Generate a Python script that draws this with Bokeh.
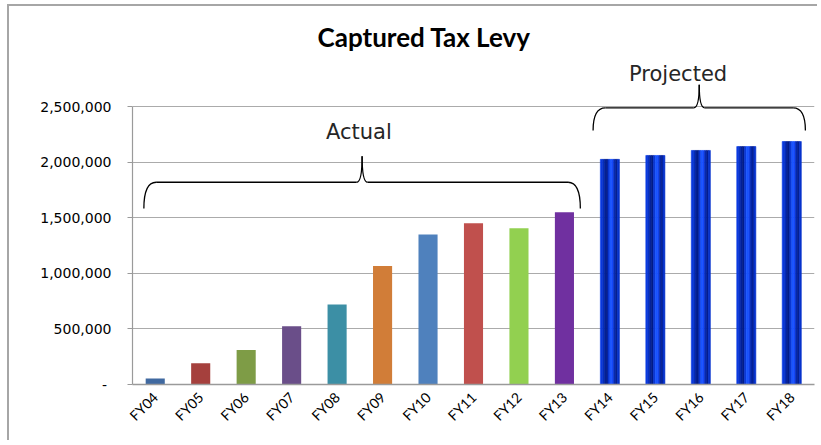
import math
from bokeh.plotting import figure
from bokeh.models import ColumnDataSource, FixedTicker, Range1d
from bokeh.core.properties import value
from bokeh.embed import file_html
from bokeh.resources import INLINE

# ---------------- data ----------------
categories = ["FY04", "FY05", "FY06", "FY07", "FY08", "FY09", "FY10", "FY11",
              "FY12", "FY13", "FY14", "FY15", "FY16", "FY17", "FY18"]
levy = [55000, 190000, 310000, 525000, 720000, 1065000, 1350000, 1450000,
        1405000, 1550000, 2025000, 2060000, 2105000, 2140000, 2185000]
actual_colors = ["#4069A0", "#A5403D", "#7E9C46", "#6A4E89", "#3C8FA5",
                 "#D17D38", "#4F81BD", "#C0504D", "#92D050", "#7030A0"]
projected_stripes = ["#0A3AE2", "#0630C6", "#04229A", "#031C88", "#0A36D2",
                     "#1A55FF", "#1448F8", "#0629B0", "#041F92", "#0632CC"]
y_ticks = [0, 500000, 1000000, 1500000, 2000000, 2500000]
y_tick_labels = ["-\u00a0", "500,000", "1,000,000", "1,500,000", "2,000,000", "2,500,000"]

group_names = ["Actual", "Projected"]
group_first = [0, 10]
group_last = [9, 14]
# annotation geometry (braces and their labels)
brace_pad_left = [0.25, 0.37]
brace_pad_right = [0.35, 0.30]
brace_bottom = [1583000, 2284000]
brace_mid = [1819000, 2488000]
brace_tip = [2053000, 2695000]
label_shift = [-0.02, -0.50]
label_base = [2269000, 2794000]

# ---------------- figure ----------------
BAR_W = 0.42
idx = list(range(len(categories)))

p = figure(width=810, height=436, output_backend="svg", toolbar_location=None, tools="",
           x_range=Range1d(-0.5, len(categories) - 0.5), y_range=Range1d(0, 2950000),
           min_border_left=123, min_border_right=5, min_border_top=50, min_border_bottom=58,
           title="Captured Tax Levy")
p.styles = {"margin-left": "9px", "margin-top": "6px",
            "box-shadow": "-2px -2px 0px 0px #A6A6A6"}
p.outline_line_color = None
p.background_fill_color = "white"
p.border_fill_color = "white"

p.title.text_font = "Lato"
p.title.text_font_size = "26px"
p.title.text_font_style = "bold"
p.title.text_color = "black"
p.title.align = "left"
p.title.offset = 185
p.title.standoff = 8

# actual bars
n_act = len(actual_colors)
src_act = ColumnDataSource(dict(x=idx[:n_act], top=levy[:n_act], color=actual_colors))
p.vbar(x="x", top="top", width=BAR_W, bottom=0, fill_color="color", line_color=None, source=src_act)

# projected bars drawn as vertical gradient stripes
proj_x = idx[n_act:]
proj_top = levy[n_act:]
ns = len(projected_stripes)
sw = BAR_W / ns
for k, col in enumerate(projected_stripes):
    off = -BAR_W / 2 + (k + 0.5) * sw
    p.vbar(x=[xx + off for xx in proj_x], top=proj_top, width=sw, bottom=0,
           fill_color=col, line_color=col, line_width=0.6)

# braces
RX = 0.27
RT = 0.12
for g in range(len(group_names)):
    x0 = group_first[g] - brace_pad_left[g]
    x1 = group_last[g] + brace_pad_right[g]
    xm = (x0 + x1) / 2
    yb, yh, yt = brace_bottom[g], brace_mid[g], brace_tip[g]
    p.quadratic(x0=[x0, xm - RT, xm + RT, x1], y0=[yb, yh, yh, yb],
                x1=[x0 + RX, xm, xm, x1 - RX], y1=[yh, yt, yt, yh],
                cx=[x0, xm, xm, x1], cy=[yh, yh, yh, yh],
                line_color="black", line_width=1.3)
    p.segment(x0=[x0 + RX, xm + RT], y0=[yh, yh], x1=[xm - RT, x1 - RX], y1=[yh, yh],
              line_color="black", line_width=1.3)
    p.text(x=[(group_first[g] + group_last[g]) / 2 + label_shift[g]], y=[label_base[g]],
           text=[group_names[g]], text_font=value("DejaVu Sans"), text_font_size="21px",
           text_align="center", text_baseline="alphabetic", text_color="#262626")

# axes
p.xgrid.visible = False
p.ygrid.grid_line_color = "#ABABAB"
p.ygrid.grid_line_width = 1.2

p.yaxis.ticker = FixedTicker(ticks=y_ticks)
p.yaxis.major_label_overrides = {t: l for t, l in zip(y_ticks, y_tick_labels)}
p.yaxis.bounds = (0, 2500000)
p.yaxis.axis_line_color = "#9A9A9A"
p.yaxis.axis_line_width = 1.2
p.yaxis.major_tick_line_color = "#9A9A9A"
p.yaxis.major_tick_out = 5
p.yaxis.major_tick_in = 0
p.yaxis.minor_tick_line_color = None
p.yaxis.major_label_standoff = 16
p.yaxis.major_label_text_font = "DejaVu Sans"
p.yaxis.major_label_text_font_size = "14px"
p.yaxis.major_label_text_color = "black"

p.xaxis.ticker = FixedTicker(ticks=idx)
p.xaxis.major_label_overrides = {i: c for i, c in zip(idx, categories)}
p.xaxis.major_label_orientation = math.pi / 4
p.xaxis.axis_line_color = "#9A9A9A"
p.xaxis.axis_line_width = 1.5
p.xaxis.major_tick_line_color = None
p.xaxis.major_tick_out = 0
p.xaxis.major_tick_in = 0
p.xaxis.minor_tick_line_color = None
p.xaxis.major_label_standoff = 10
p.xaxis.major_label_text_font = "Lato"
p.xaxis.major_label_text_font_size = "14px"
p.xaxis.major_label_text_color = "black"

open("out.html", "w").write(file_html(p, INLINE))
